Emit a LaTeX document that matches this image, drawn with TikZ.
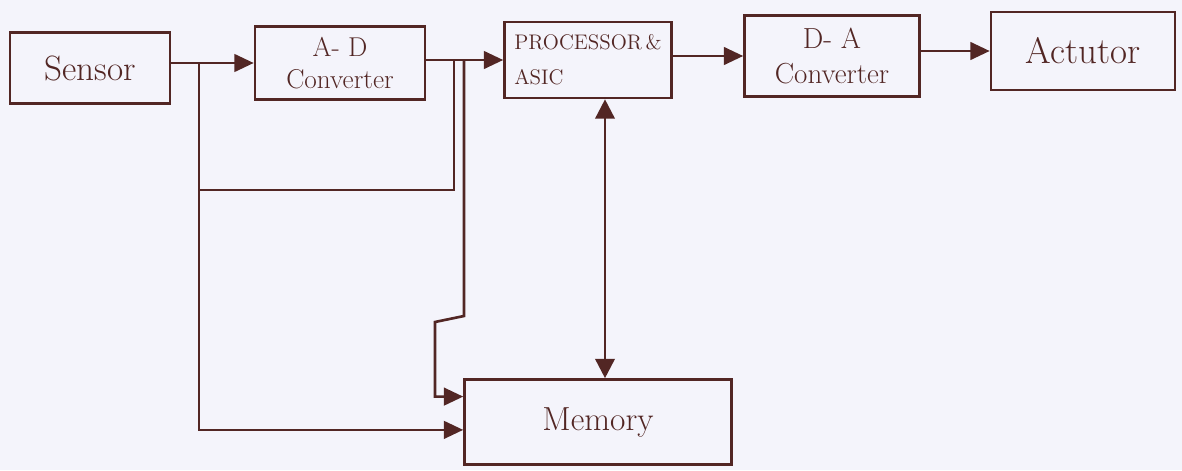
\documentclass[tikz,border=0pt]{standalone}
\usepackage{fontspec}
\usepackage{tikz}
\usetikzlibrary{positioning,arrows.meta,calc}
\definecolor{ink}{RGB}{82,38,36}
\definecolor{paper}{RGB}{244,244,251}

\begin{document}
\begin{tikzpicture}[
  x=0.02cm, y=-0.02cm,
  blk/.style={draw=ink, line width=1.5pt, text=ink, inner sep=2pt, align=center},
  wire/.style={draw=ink, line width=1.5pt},
  arr/.style={wire, -{Triangle[length=11pt,width=10pt]}},
  dbl/.style={wire, {Triangle[length=11pt,width=11pt]}-{Triangle[length=11pt,width=11pt]}},
]
  % sheet
  \fill[paper] (0,0) rectangle (1182,470);
  \useasboundingbox (0,0) rectangle (1182,470);

  % blocks of the chain
  \node[blk, minimum width=3.2cm, minimum height=1.42cm, font=\fontsize{20}{22}\selectfont] (sensor) at (90,68) {Sensor};
  \node[blk, minimum width=3.4cm, minimum height=1.46cm, font=\fontsize{15.5}{18}\selectfont] (adc) at (340,63) {A- D\\Converter};
  \node[blk, minimum width=3.34cm, minimum height=1.52cm, font=\fontsize{12}{20}\selectfont, align=left] (proc) at (588,60) {PROCESSOR\,\&\\ASIC};
  \node[blk, minimum width=3.5cm, minimum height=1.62cm, font=\fontsize{16.5}{20}\selectfont] (dac) at (832,56) {D- A\\Converter};
  \node[blk, minimum width=3.68cm, minimum height=1.56cm, font=\fontsize{21}{23}\selectfont] (act) at (1083,51) {Actutor};
  \node[blk, minimum width=5.34cm, minimum height=1.7cm, font=\fontsize{19}{21}\selectfont] (mem) at (598,422) {Memory};

  % signal path
  \draw[arr] (sensor.east |- adc.west) -- (adc.west);
  \draw[arr] (adc.east |- proc.west) -- (proc.west);
  \draw[arr] (proc.east |- dac.west) -- (dac.west);
  \draw[arr] (dac.east |- act.west) -- (act.west);

  % taps down to memory
  \coordinate (s1) at (199,63);
  \coordinate (j1) at (199,190);
  \coordinate (a1) at (454,60);
  \coordinate (a2) at (464,60);
  \coordinate (k1) at (464,316);
  \coordinate (k2) at (435,322);
  \coordinate (m1) at ($(mem.north west)!0.21!(mem.south west)$);
  \coordinate (m2) at ($(mem.north west)!0.59!(mem.south west)$);
  \draw[arr] (s1) |- (m2);
  \draw[wire] (a1) |- (j1);
  \draw[arr] (a2) -- (k1) -- (k2) |- (m1);
  \draw[dbl] (proc.south -| 605,0) -- (mem.north -| 605,0);
\end{tikzpicture}
\end{document}
